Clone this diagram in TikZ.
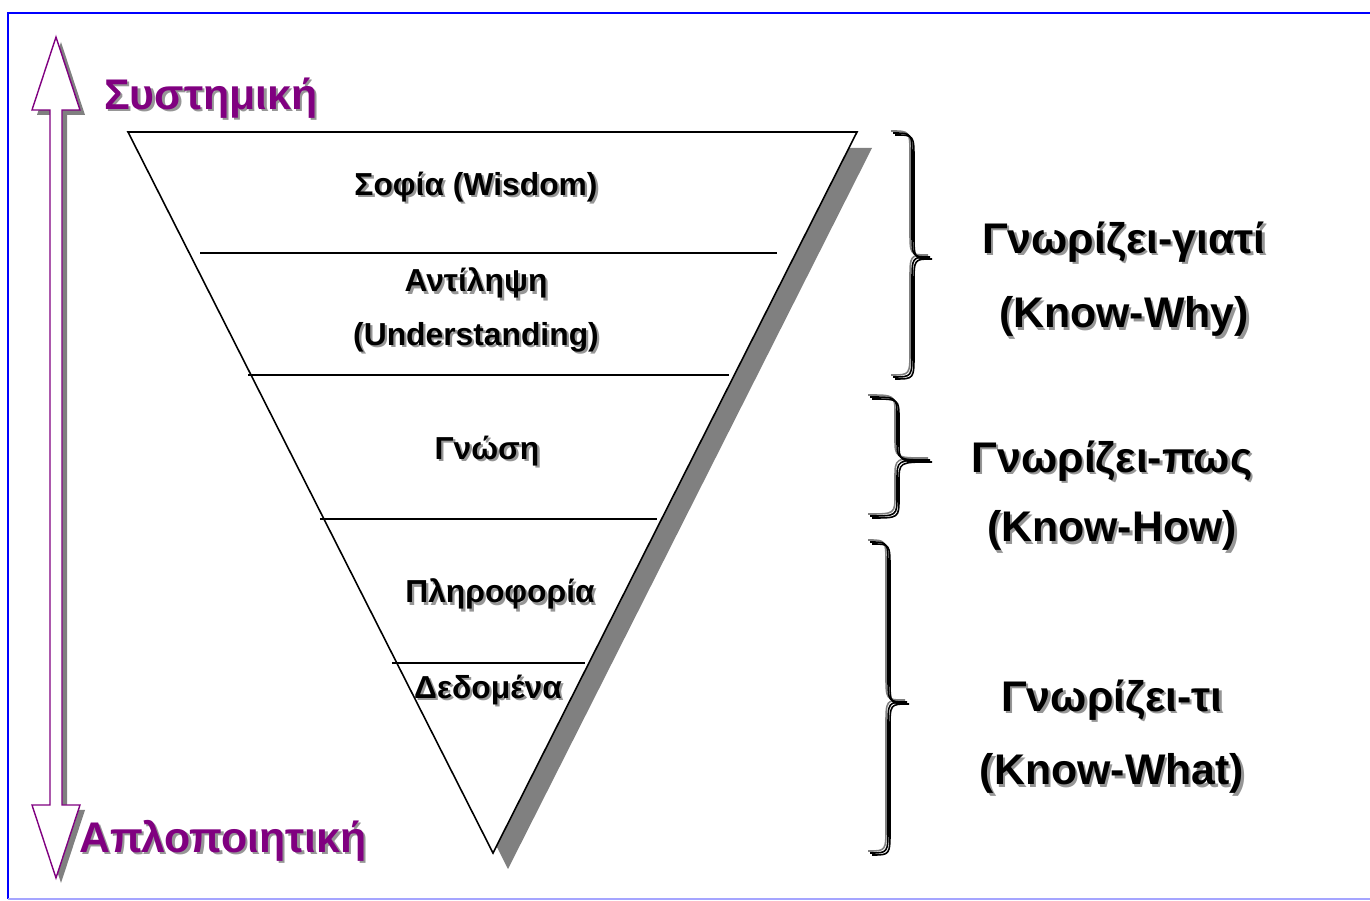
\documentclass[tikz,border=0pt]{standalone}
\usepackage{fontspec}
\setmainfont{Liberation Sans}
\definecolor{frameblue}{RGB}{0,0,255}
\definecolor{framelight}{RGB}{165,165,255}
\definecolor{titlepurple}{RGB}{128,0,128}
\definecolor{dropgray}{RGB}{128,128,128}
\definecolor{txtshade}{RGB}{150,150,150}

% text with a soft drop shadow: name, position, style, text
\newcommand\shadowtext[4]{%
  \node[#3, text=txtshade, xshift=1.3pt, yshift=-1.3pt] at (#2) {#4};
  \node[#3] (#1) at (#2) {#4};}

% layered curly brace: x of ends, x of stem, x of tip, y top, y middle, y bottom, bend
\newcommand\layeredbrace[7]{%
  \foreach \dx/\dy/\col in {-2/-2/dropgray, 0/0/black, 2/2/black}{%
    \draw[draw=\col, line width=0.9pt, shift={(\dx,\dy)}]
      (#1,#4) .. controls (#2,#4) .. (#2,#4+#7) -- (#2,#5-#7)
      .. controls (#2,#5) .. (#3,#5)
      .. controls (#2,#5) .. (#2,#5+#7) -- (#2,#6-#7)
      .. controls (#2,#6) .. (#1,#6);
  }}

\begin{document}
\begin{tikzpicture}[x=0.02cm, y=-0.02cm,
  inlabel/.style={font=\fontsize{18.1pt}{21pt}\bfseries\selectfont, inner sep=0pt, yshift=-1.2pt},
  sidelabel/.style={font=\fontsize{24.4pt}{28pt}\bfseries\selectfont, inner sep=0pt, yshift=-1.6pt},
  poletitle/.style={font=\fontsize{24.4pt}{28pt}\bfseries\selectfont, inner sep=0pt, yshift=-1.6pt, text=titlepurple},
  layerline/.style={line width=0.7pt},
  pyramid/.style={draw=black, fill=white, line width=0.9pt, line join=miter},
  arrowbody/.style={draw=titlepurple, fill=white, line width=0.8pt}]

\useasboundingbox (0,0) rectangle (1370,901);

% frame
\draw[frameblue, line width=1.3pt] (1372,13) -- (8,13) -- (8,899);
\draw[framelight, line width=1.3pt] (8,899) -- (1372,899);

% vertical double arrow with its shadow
\fill[dropgray, shift={(5,5)}] (56,37) -- (80,110) -- (62,110) -- (62,805) -- (80,805)
  -- (56,878) -- (32,805) -- (50,805) -- (50,110) -- (32,110) -- cycle;
\draw[arrowbody] (56,37) -- (80,110) -- (62,110) -- (62,805) -- (80,805)
  -- (56,878) -- (32,805) -- (50,805) -- (50,110) -- (32,110) -- cycle;

% inverted pyramid with its shadow
\fill[dropgray, shift={(15,16)}] (128,132) -- (857,132) -- (493,853) -- cycle;
\draw[pyramid] (128,132) -- (857,132) -- (493,853) -- cycle;

% layer boundaries
\draw[layerline] (200,253) -- (777,253);
\draw[layerline] (248,375) -- (729,375);
\draw[layerline] (320,519) -- (657,519);
\draw[layerline] (392,663) -- (585,663);

% layer names
\shadowtext{wisdom}{476,185}{inlabel}{Σοφία (Wisdom)}
\shadowtext{underst}{476,281}{inlabel}{Αντίληψη}
\shadowtext{understen}{476,335}{inlabel}{(Understanding)}
\shadowtext{knowledge}{487,449}{inlabel}{Γνώση}
\shadowtext{info}{500,592}{inlabel}{Πληροφορία}
\shadowtext{data}{488,688}{inlabel}{Δεδομένα}

% poles of the arrow
\shadowtext{systemic}{211,95}{poletitle}{Συστημική}
\shadowtext{simple}{223,838}{poletitle}{Απλοποιητική}

% braces
\layeredbrace{893}{912}{930}{133}{257}{377}{25}
\layeredbrace{870}{897}{930}{397}{460}{516}{20}
\layeredbrace{870}{888}{907}{542}{702}{853}{25}

% kinds of knowing
\shadowtext{whygr}{1124,239}{sidelabel}{Γνωρίζει-γιατί}
\shadowtext{whyen}{1124,314}{sidelabel}{(Know-Why)}
\shadowtext{howgr}{1112,458}{sidelabel}{Γνωρίζει-πως}
\shadowtext{howen}{1112,528}{sidelabel}{(Know-How)}
\shadowtext{whatgr}{1112,697}{sidelabel}{Γνωρίζει-τι}
\shadowtext{whaten}{1112,771}{sidelabel}{(Know-What)}
\end{tikzpicture}
\end{document}
